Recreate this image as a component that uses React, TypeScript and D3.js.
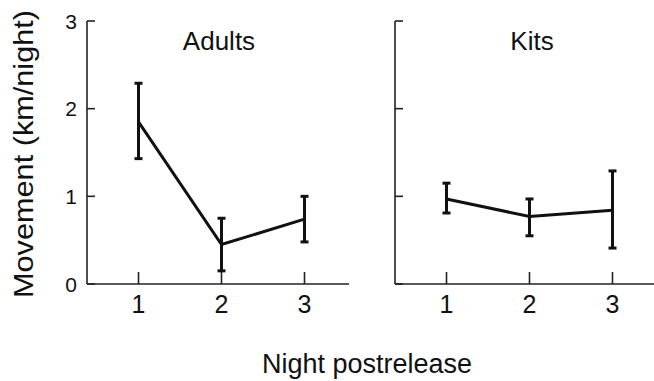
import React from "react";
import * as d3 from "d3";

const nights = [1, 2, 3];
const adultsMean = [1.85, 0.45, 0.74];
const adultsUpper = [2.29, 0.75, 1.0];
const adultsLower = [1.43, 0.15, 0.48];
const kitsMean = [0.97, 0.77, 0.84];
const kitsUpper = [1.15, 0.97, 1.29];
const kitsLower = [0.81, 0.55, 0.41];
const yTicks = [0, 1, 2, 3];
const panelTitles = ["Adults", "Kits"];

const W = 654;
const H = 381;
const FONT = "'Liberation Sans', Arial, Helvetica, sans-serif";

type Panel = {
  title: string;
  mean: number[];
  upper: number[];
  lower: number[];
  left: number;
  axisEnd: number;
  showYLabels: boolean;
  titleX: number;
};

const panels: Panel[] = [
  { title: panelTitles[0], mean: adultsMean, upper: adultsUpper, lower: adultsLower, left: 87, axisEnd: 349, showYLabels: true, titleX: 219 },
  { title: panelTitles[1], mean: kitsMean, upper: kitsUpper, lower: kitsLower, left: 395, axisEnd: 660, showYLabels: false, titleX: 532 },
];

const y = d3.scaleLinear().domain([0, 3]).range([284, 21]);

function PanelView({ p }: { p: Panel }) {
  const x = d3.scaleLinear().domain([1, 3]).range([p.left + 51.5, p.left + 217.5]);
  const line = d3
    .line<number>()
    .x((_, i) => x(nights[i]))
    .y((d) => y(d));
  const capW = 4;
  return (
    <g>
      {/* y axis */}
      <line x1={p.left} x2={p.left} y1={y(3)} y2={y(0)} stroke="#222" strokeWidth={1.6} />
      {yTicks.map((t) => (
        <g key={t}>
          <line x1={p.left} x2={p.left + 8} y1={y(t)} y2={y(t)} stroke="#222" strokeWidth={1.6} />
          {p.showYLabels && (
            <text x={p.left - 10} y={y(t)} dy="0.36em" textAnchor="end" fontSize={21} fontFamily={FONT} fill="#111">
              {t}
            </text>
          )}
        </g>
      ))}
      {/* x axis */}
      <line x1={p.left} x2={p.axisEnd} y1={y(0)} y2={y(0)} stroke="#222" strokeWidth={1.6} />
      {nights.map((n) => (
        <g key={n}>
          <line x1={x(n)} x2={x(n)} y1={y(0)} y2={y(0) - 12} stroke="#222" strokeWidth={1.6} />
          <text x={x(n)} y={313} textAnchor="middle" fontSize={25} fontFamily={FONT} fill="#111">
            {n}
          </text>
        </g>
      ))}
      {/* error bars */}
      {nights.map((n, i) => (
        <g key={"e" + n} stroke="#111" strokeWidth={3}>
          <line x1={x(n)} x2={x(n)} y1={y(p.upper[i])} y2={y(p.lower[i])} />
          <line x1={x(n) - capW} x2={x(n) + capW} y1={y(p.upper[i])} y2={y(p.upper[i])} />
          <line x1={x(n) - capW} x2={x(n) + capW} y1={y(p.lower[i])} y2={y(p.lower[i])} />
        </g>
      ))}
      <path d={line(p.mean) || ""} fill="none" stroke="#111" strokeWidth={3} strokeLinejoin="miter" />
      <text x={p.titleX} y={50} textAnchor="middle" fontSize={26} fontFamily={FONT} fill="#111">
        {p.title}
      </text>
    </g>
  );
}

export default function App() {
  return (
    <svg
      width={W}
      height={H}
      viewBox={`0 0 ${W} ${H}`}
      style={{ position: "absolute", left: 0, top: 0, background: "#fff" }}
    >
      <rect width={W} height={H} fill="#fff" />
      {panels.map((p) => (
        <PanelView key={p.title} p={p} />
      ))}
      <text
        transform="translate(33,154) rotate(-90)"
        textAnchor="middle"
        fontSize={28}
        fontFamily={FONT}
        fill="#111"
        textLength={288}
        lengthAdjust="spacingAndGlyphs"
      >
        Movement (km/night)
      </text>
      <text x={367} y={373} textAnchor="middle" fontSize={27} fontFamily={FONT} fill="#111">
        Night postrelease
      </text>
    </svg>
  );
}
